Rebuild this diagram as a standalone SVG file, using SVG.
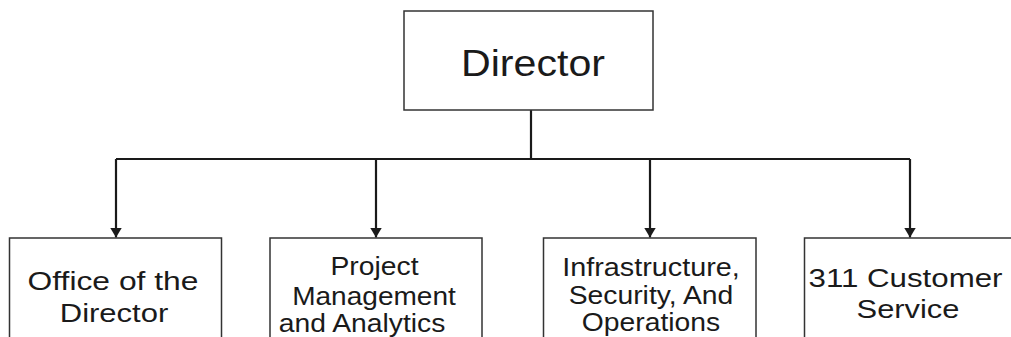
<svg xmlns="http://www.w3.org/2000/svg" width="1011" height="337" viewBox="0 0 1011 337">
<style>
.box{fill:#fff;stroke:#333;stroke-width:1.5}
.t{font-family:"Liberation Sans",Arial,sans-serif;fill:#1a1a1a;text-anchor:middle}
.c{fill:none;stroke:#1a1a1a;stroke-width:2.2}
</style>
<defs>
<marker id="arr" viewBox="0 0 10 12" refX="10" refY="6" markerWidth="10" markerHeight="12" markerUnits="userSpaceOnUse" orient="auto">
<path d="M0,0 L10,6 L0,12 Z" fill="#1a1a1a"/>
</marker>
</defs>
<rect width="1011" height="337" fill="#fff"/>
<g id="connectors">
<path class="c" d="M531,110 V159"/>
<path class="c" d="M116,159 H910"/>
<path class="c" d="M116,159 V237.5" marker-end="url(#arr)"/>
<path class="c" d="M376,159 V237.5" marker-end="url(#arr)"/>
<path class="c" d="M650,159 V237.5" marker-end="url(#arr)"/>
<path class="c" d="M910,159 V237.5" marker-end="url(#arr)"/>
</g>
<g id="director">
<rect class="box" x="404" y="11" width="249" height="99"/>
<text class="t" font-size="36" transform="translate(533 75.5) scale(1.143 1)">Director</text>
</g>
<g id="office">
<rect class="box" x="9.5" y="238" width="212" height="110"/>
<text class="t" font-size="26.5" transform="translate(113 290) scale(1.2 1)">Office of the</text>
<text class="t" font-size="26.5" transform="translate(114 322) scale(1.17 1)">Director</text>
</g>
<g id="pma">
<rect class="box" x="270" y="238" width="212" height="110"/>
<text class="t" font-size="25.5" transform="translate(374.5 275) scale(1.11 1)">Project</text>
<text class="t" font-size="25.5" transform="translate(374 305) scale(1.1 1)">Management</text>
<text class="t" font-size="25.5" transform="translate(362 332) scale(1.11 1)">and Analytics</text>
</g>
<g id="iso">
<rect class="box" x="543.5" y="238" width="212.5" height="110"/>
<text class="t" font-size="25.5" transform="translate(651 276) scale(1.13 1)">Infrastructure,</text>
<text class="t" font-size="25.5" transform="translate(651 304) scale(1.11 1)">Security, And</text>
<text class="t" font-size="25.5" transform="translate(651 331) scale(1.11 1)">Operations</text>
</g>
<g id="cs311">
<rect class="box" x="804.5" y="238" width="215" height="110"/>
<text class="t" font-size="26.5" transform="translate(905.5 287) scale(1.18 1)">311 Customer</text>
<text class="t" font-size="26.5" transform="translate(908 318) scale(1.165 1)">Service</text>
</g>
</svg>
